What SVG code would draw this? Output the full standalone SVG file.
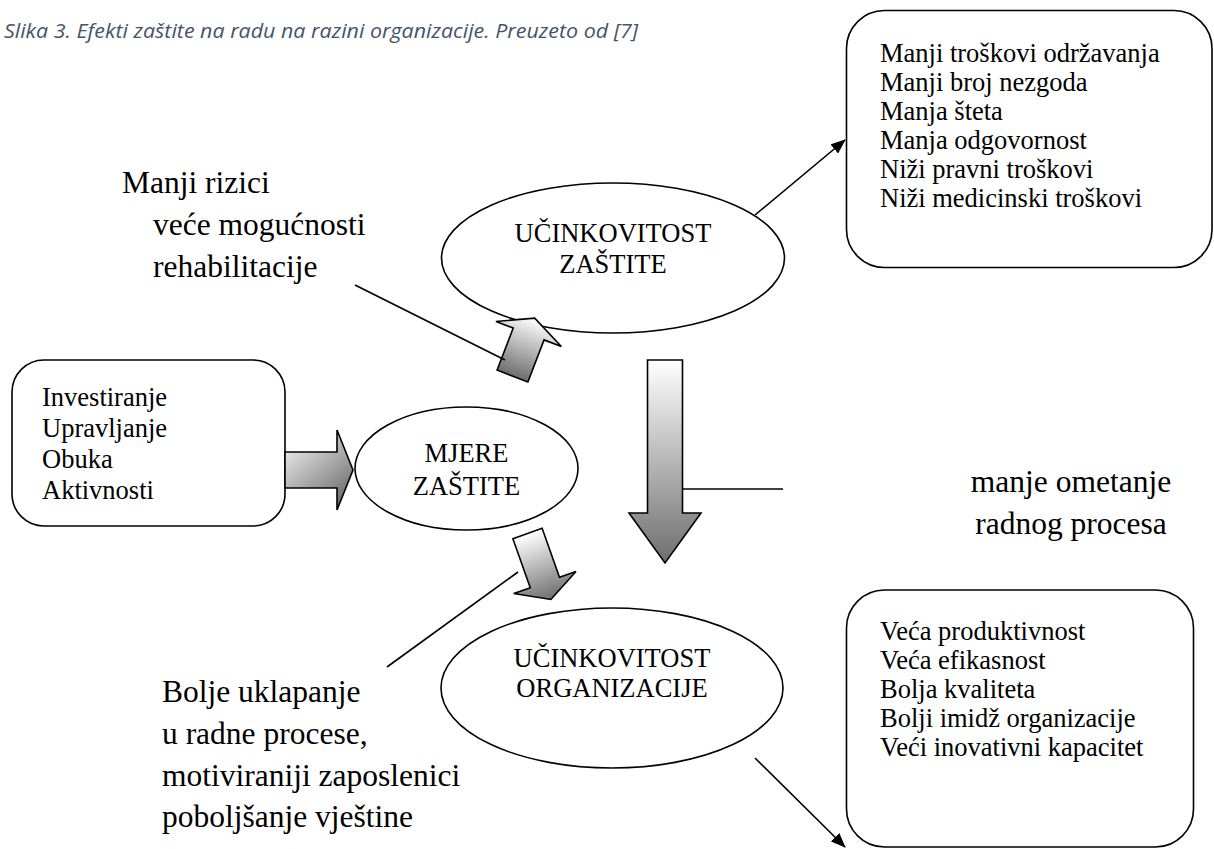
<svg xmlns="http://www.w3.org/2000/svg" width="1214" height="849" viewBox="0 0 1214 849">
<style>
.t{font-family:"Liberation Serif","Times New Roman",serif;font-size:26.5px;fill:#000}
.b{font-family:"Liberation Serif","Times New Roman",serif;font-size:31.5px;fill:#000}
.box{fill:#fff;stroke:#000;stroke-width:1.6}
.ell{fill:#fff;stroke:#000;stroke-width:1.6}
.ln{stroke:#000;stroke-width:1.6;fill:none}
.fat{stroke:#000;stroke-width:1.6;stroke-linejoin:miter}
.cap{font-family:"Open Sans","Liberation Sans",sans-serif;font-style:italic;font-size:20px;fill:#44546A}
</style>
<defs>
<linearGradient id="gv" x1="0" y1="0" x2="0" y2="1"><stop offset="0" stop-color="#ffffff"/><stop offset="1" stop-color="#6e6e6e"/></linearGradient>
<linearGradient id="gd" x1="0" y1="0" x2="0.7" y2="1"><stop offset="0" stop-color="#ffffff"/><stop offset="1" stop-color="#6e6e6e"/></linearGradient>
<marker id="ah" markerWidth="15" markerHeight="12" refX="14" refY="6" orient="auto" markerUnits="userSpaceOnUse"><path d="M0,0 L15,6 L0,12 Z" fill="#000"/></marker>
</defs>
<rect width="1214" height="849" fill="#fff"/>
<text class="cap" x="4" y="38" textLength="634" lengthAdjust="spacingAndGlyphs">Slika 3. Efekti zaštite na radu na razini organizacije. Preuzeto od [7]</text>

<g id="box-top">
<rect class="box" x="846.5" y="10.5" width="365.5" height="257" rx="38"/>
<text class="t" x="880" y="62">Manji troškovi održavanja</text>
<text class="t" x="880" y="91">Manji broj nezgoda</text>
<text class="t" x="880" y="120">Manja šteta</text>
<text class="t" x="880" y="149">Manja odgovornost</text>
<text class="t" x="880" y="178">Niži pravni troškovi</text>
<text class="t" x="880" y="207">Niži medicinski troškovi</text>
</g>

<g id="box-left">
<rect class="box" x="12" y="360" width="273" height="166" rx="32"/>
<text class="t" x="42" y="406">Investiranje</text>
<text class="t" x="42" y="437">Upravljanje</text>
<text class="t" x="42" y="468">Obuka</text>
<text class="t" x="42" y="499">Aktivnosti</text>
</g>

<g id="box-bottom">
<rect class="box" x="846.5" y="590" width="347" height="257" rx="38"/>
<text class="t" x="880" y="640">Veća produktivnost</text>
<text class="t" x="880" y="669">Veća efikasnost</text>
<text class="t" x="880" y="698">Bolja kvaliteta</text>
<text class="t" x="880" y="727">Bolji imidž organizacije</text>
<text class="t" x="880" y="756">Veći inovativni kapacitet</text>
</g>

<g id="ell-zastita">
<ellipse class="ell" cx="613" cy="258" rx="171.5" ry="75"/>
<text class="t" x="613" y="242" text-anchor="middle">UČINKOVITOST</text>
<text class="t" x="613" y="273" text-anchor="middle">ZAŠTITE</text>
</g>

<g id="ell-mjere">
<ellipse class="ell" cx="466.5" cy="468.5" rx="111.5" ry="61.5"/>
<text class="t" x="466.5" y="462" text-anchor="middle">MJERE</text>
<text class="t" x="466.5" y="495" text-anchor="middle">ZAŠTITE</text>
</g>

<g id="ell-organizacija">
<ellipse class="ell" cx="612" cy="688" rx="171" ry="80"/>
<text class="t" x="612" y="667" text-anchor="middle">UČINKOVITOST</text>
<text class="t" x="612" y="697" text-anchor="middle">ORGANIZACIJE</text>
</g>

<g id="labels">
<text class="b" x="122" y="193">Manji rizici</text>
<text class="b" x="153" y="235">veće mogućnosti</text>
<text class="b" x="153" y="277">rehabilitacije</text>
<text class="b" x="1071" y="492" text-anchor="middle">manje ometanje</text>
<text class="b" x="1071" y="534" text-anchor="middle">radnog procesa</text>
<text class="b" x="162" y="702">Bolje uklapanje</text>
<text class="b" x="162" y="744">u radne procese,</text>
<text class="b" x="162" y="786">motiviraniji zaposlenici</text>
<text class="b" x="162" y="827">poboljšanje vještine</text>
</g>

<g id="connectors">
<path class="fat" fill="url(#gd)" d="M285,452 H337 V430 L353,470 L337,510 V488 H285 Z"/>
<path class="fat" fill="url(#gv)" d="M647.5,360 H682.5 V513 H701 L665,563 L629,513 H647.5 Z"/>
<path class="fat" fill="url(#gv)" transform="translate(512.5,376) rotate(21)" d="M-16.5,0 L-16.5,-45 L-35,-45 L0,-62 L35,-45 L16.5,-45 L16.5,0 Z"/>
<path class="fat" fill="url(#gv)" transform="translate(527.5,533.5) rotate(-19.5)" d="M-15.5,0 H15.5 V52 H33 L0,70 L-33,52 H-15.5 Z"/>
<line class="ln" x1="355" y1="285" x2="505" y2="360"/>
<line class="ln" x1="387" y1="667" x2="518" y2="572"/>
<line class="ln" x1="683" y1="489" x2="783" y2="489"/>
<line class="ln" x1="755" y1="215" x2="845" y2="140" marker-end="url(#ah)"/>
<line class="ln" x1="755" y1="758" x2="845" y2="847" marker-end="url(#ah)"/>
</g>
</svg>
